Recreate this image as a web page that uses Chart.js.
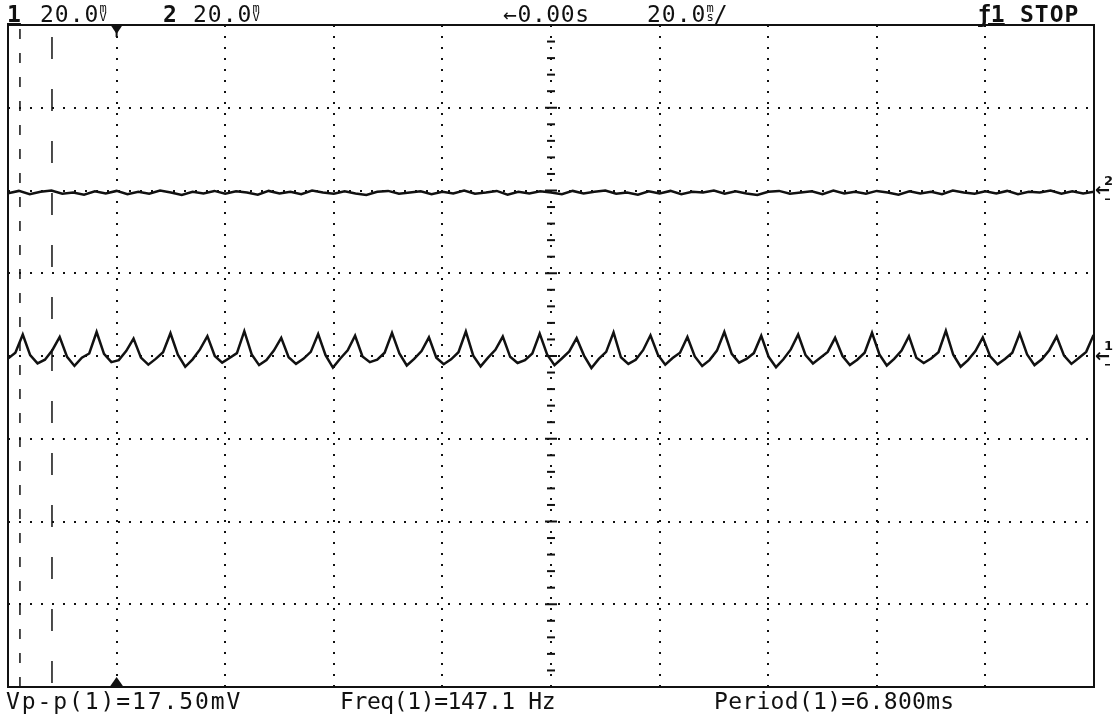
<!DOCTYPE html>
<html>
<head>
<meta charset="utf-8">
<script src="https://cdn.jsdelivr.net/npm/chart.js@4/dist/chart.umd.min.js"></script>
<style>
  html, body { margin: 0; padding: 0; background: #fff; }
  #wrap { position: relative; width: 1113px; height: 717px; overflow: hidden; }
  canvas { position: absolute; left: 0; top: 0; }
  .t { position: absolute; font-family: "DejaVu Sans Mono", monospace; color: #111; white-space: nowrap; line-height: 1; }
  .stk { display: inline-block; font-size: 12px; line-height: 9px; text-align: center; vertical-align: top; margin-top: 1px; letter-spacing: 0; }
  .b { font-weight: bold; }
  .u { text-decoration: underline; text-decoration-thickness: 2px; }
</style>
</head>
<body>
<div id="wrap">
  <canvas id="c" width="1113" height="717"></canvas>
  <div class="t b u" style="left:7px;top:3px;font-size:23px;">1</div>
  <div class="t" style="left:40px;top:3px;font-size:23px;letter-spacing:1px;">20.0<span class="stk">m<br>V</span></div>
  <div class="t b" style="left:163px;top:3px;font-size:23px;">2</div>
  <div class="t" style="left:193px;top:3px;font-size:23px;letter-spacing:1px;">20.0<span class="stk">m<br>V</span></div>
  <div class="t" style="left:503px;top:3px;font-size:23px;letter-spacing:0.6px;">←0.00s</div>
  <div class="t" style="left:647px;top:3px;font-size:23px;letter-spacing:1px;">20.0<span class="stk">m<br>s</span>/</div>
  <div class="t b u" style="left:977px;top:3px;font-size:23px;">ƒ1</div>
  <div class="t b" style="left:1020px;top:3px;font-size:23px;letter-spacing:1px;">STOP</div>
  <div class="t" style="left:6px;top:690px;font-size:23px;letter-spacing:1.9px;">Vp-p(1)=17.50mV</div>
  <div class="t" style="left:340px;top:690px;font-size:23px;letter-spacing:-0.4px;">Freq(1)=147.1 Hz</div>
  <div class="t" style="left:714px;top:690px;font-size:23px;letter-spacing:0.3px;">Period(1)=6.800ms</div>
</div>
<script>
// ---- data ----
const timeStartMs = 0;
const timeEndMs = 200;          // 20 ms/div x 10 div
const voltMin = -80;            // 20 mV/div x 8 div
const voltMax = 80;
const ch1StepMs = 1.36;
const ch2StepMs = 2;
const ch1OffsetMv = 0;
const ch2OffsetMv = 40;
const triggerMarkMs = 20;

const ch1Values = [
  -0.6, 0.8, 5.2, 0.2, -1.8,
  -0.9, 1.4, 4.6, -0.2, -2.4,
  -0.4, 0.6, 5.8, 0.5, -1.5,
  -1.0, 1.2, 4.2, -0.4, -2.1,
  -0.7, 0.9, 5.5, 0.3, -2.6,
  -0.8, 1.6, 4.8, 0.0, -1.6,
  -0.5, 0.7, 6.0, 0.4, -2.2,
  -1.0, 1.3, 4.4, -0.3, -1.9,
  -0.7, 1.0, 5.3, 0.2, -2.8,
  -0.6, 1.4, 4.9, -0.1, -1.5,
  -0.9, 0.8, 5.6, 0.6, -2.3,
  -0.7, 1.2, 4.5, -0.4, -2.0,
  -0.8, 0.9, 5.9, 0.1, -2.5,
  -0.4, 1.5, 4.7, -0.2, -1.7,
  -1.0, 0.6, 5.4, 0.4, -2.2,
  -0.6, 1.1, 4.3, 0.1, -2.9,
  -0.7, 1.0, 5.7, -0.3, -1.9,
  -0.9, 1.4, 5.0, 0.3, -2.1,
  -0.5, 0.8, 4.6, -0.1, -2.4,
  -1.0, 1.3, 5.8, 0.5, -1.6,
  -0.7, 0.7, 4.9, -0.2, -2.7,
  -0.8, 1.6, 5.2, 0.2, -1.8,
  -0.4, 1.0, 4.4, 0.0, -2.2,
  -0.9, 0.8, 5.6, 0.4, -2.3,
  -0.7, 1.3, 4.8, -0.4, -1.7,
  -0.6, 0.9, 6.1, 0.3, -2.6,
  -1.0, 1.2, 4.5, -0.1, -2.0,
  -0.7, 0.8, 5.4, 0.4, -2.2,
  -0.8, 1.4, 4.7, 0.1, -1.9,
  -0.5, 1.0, 5.1
];

const ch2Values = [
  39.3, 39.9, 39.1, 39.7, 40.0, 39.2, 39.5, 39.0, 39.8, 39.3,
  39.9, 39.1, 39.7, 39.2, 40.0, 39.5, 38.9, 39.7, 39.3, 39.9,
  39.2, 39.8, 39.5, 39.0, 39.9, 39.3, 39.7, 39.1, 40.0, 39.5,
  39.2, 39.8, 39.3, 38.9, 39.7, 39.9, 39.2, 39.5, 39.8, 39.1,
  39.7, 39.3, 40.0, 39.2, 39.5, 39.9, 39.0, 39.7, 39.3, 39.8,
  39.5, 39.1, 39.9, 39.3, 39.7, 40.0, 39.2, 39.5, 39.0, 39.8,
  39.3, 39.9, 39.1, 39.7, 39.5, 40.0, 39.2, 39.8, 39.3, 38.9,
  39.7, 39.9, 39.2, 39.5, 39.8, 39.1, 40.0, 39.3, 39.7, 39.2,
  39.9, 39.5, 39.0, 39.8, 39.3, 39.7, 39.1, 40.0, 39.5, 39.2,
  39.8, 39.3, 39.9, 39.1, 39.7, 39.5, 40.0, 39.2, 39.8, 39.3,
  39.7
];

// ---- build points ----
const ch1Points = ch1Values.map((v, i) => ({ x: timeStartMs + i * ch1StepMs, y: v }));
const ch2Points = ch2Values.map((v, i) => ({ x: timeStartMs + i * ch2StepMs, y: v }));

const ink = '#111';

const scopePlugin = {
  id: 'scope',
  afterDraw(chart) {
    const { ctx, chartArea: a, scales: { x, y } } = chart;
    ctx.save();
    // frame
    ctx.strokeStyle = ink;
    ctx.lineWidth = 2;
    ctx.strokeRect(a.left, a.top, a.right - a.left, a.bottom - a.top);
    // center axis with minor ticks
    const cx = x.getPixelForValue((timeStartMs + timeEndMs) / 2);
    ctx.lineWidth = 2;
    for (let v = voltMin; v <= voltMax; v += 4) {
      const py = y.getPixelForValue(v);
      const half = (v % 20 === 0) ? 6 : 4;
      ctx.beginPath();
      ctx.moveTo(cx - half, py);
      ctx.lineTo(cx + half, py);
      ctx.stroke();
    }
    // left dashed cursor-like marks
    ctx.lineWidth = 1.5;
    ctx.setLineDash([10, 14]);
    let lx = x.getPixelForValue(2.2);
    ctx.beginPath(); ctx.moveTo(lx, a.top + 4); ctx.lineTo(lx, a.bottom); ctx.stroke();
    ctx.setLineDash([22, 30]);
    lx = x.getPixelForValue(8.1);
    ctx.lineDashOffset = -6;
    ctx.beginPath(); ctx.moveTo(lx, a.top + 6); ctx.lineTo(lx, a.bottom); ctx.stroke();
    ctx.setLineDash([]);
    // trigger position markers
    const tx = x.getPixelForValue(triggerMarkMs);
    ctx.fillStyle = ink;
    ctx.beginPath();
    ctx.moveTo(tx - 6, a.top); ctx.lineTo(tx + 6, a.top); ctx.lineTo(tx, a.top + 9); ctx.closePath(); ctx.fill();
    ctx.fillRect(tx - 1, a.top, 2, 12);
    ctx.beginPath();
    ctx.moveTo(tx - 7, a.bottom); ctx.lineTo(tx + 7, a.bottom); ctx.lineTo(tx, a.bottom - 10); ctx.closePath(); ctx.fill();
    // channel level markers on the right
    ctx.textBaseline = 'middle';
    [[ch2OffsetMv, '2'], [ch1OffsetMv, '1']].forEach(([lvl, lab]) => {
      const py = y.getPixelForValue(lvl);
      ctx.font = 'bold 18px "DejaVu Sans"';
      ctx.fillText('←', a.right + 1, py + 1);
      ctx.font = 'bold 13px "DejaVu Sans"';
      ctx.fillText(lab, a.right + 10, py - 9);
      ctx.fillRect(a.right + 11, py + 8, 5, 1.5);
    });
    ctx.restore();
  }
};

new Chart(document.getElementById('c'), {
  type: 'line',
  data: {
    datasets: [
      { label: 'CH2', data: ch2Points, borderColor: ink, borderWidth: 2.5, pointRadius: 0, tension: 0 },
      { label: 'CH1', data: ch1Points, borderColor: ink, borderWidth: 2.5, pointRadius: 0, tension: 0 }
    ]
  },
  options: {
    responsive: false,
    animation: false,
    layout: { padding: { left: 8, right: 19, top: 25, bottom: 30 } },
    plugins: { legend: { display: false }, tooltip: { enabled: false } },
    scales: {
      x: {
        type: 'linear', min: timeStartMs, max: timeEndMs,
        ticks: { display: false, stepSize: 20 },
        grid: { color: ink, lineWidth: 2, drawTicks: false },
        border: { display: false, dash: [2, 9] }
      },
      y: {
        type: 'linear', min: voltMin, max: voltMax,
        ticks: { display: false, stepSize: 20 },
        grid: { color: ink, lineWidth: 2, drawTicks: false },
        border: { display: false, dash: [2, 9] }
      }
    }
  },
  plugins: [scopePlugin]
});
</script>
</body>
</html>
